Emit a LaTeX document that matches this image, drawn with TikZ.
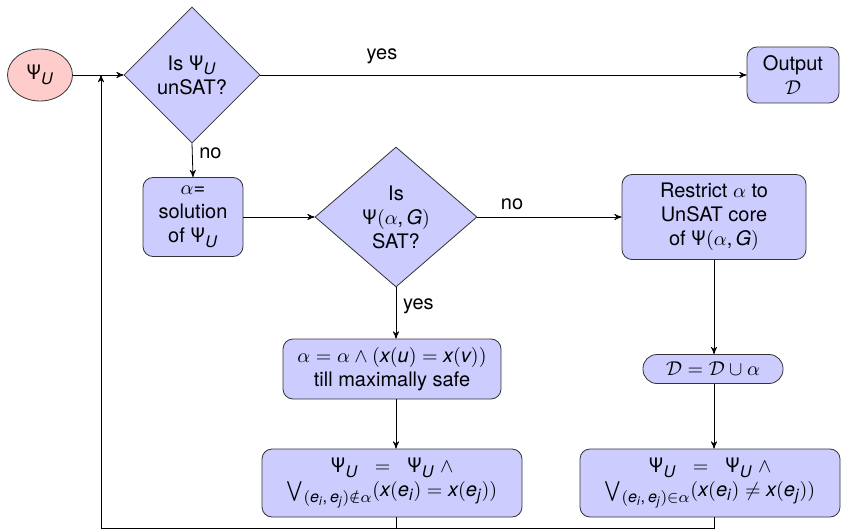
\documentclass[tikz,border=0pt]{standalone}
\usepackage{amssymb}
\usepackage{fontspec}
\setmainfont{TeX Gyre Heros}
\usepackage[italic]{mathastext}
\usetikzlibrary{arrows,shapes.geometric,positioning}

\newcommand{\PsiU}{\mbox{Ψ}_{U}}
\newcommand{\PsiG}{\mbox{Ψ}(\alpha, G)}

\begin{document}
\begin{tikzpicture}[x=0.5pt,y=-0.5pt,>=stealth']
        \tikzstyle{stepbox}=[draw=black!80, fill=blue!20, rounded corners=5pt, align=center, inner sep=2pt]
        \tikzstyle{decision}=[diamond, draw=black!80, fill=blue!20, align=center, inner sep=0pt]
        \tikzstyle{startnode}=[ellipse, draw=black!80, fill=red!20]
        \useasboundingbox (0,0) rectangle (844,529);
        % first row
        \node [startnode, minimum width=32.5pt, minimum height=26pt] (start) at (40,75) {$\PsiU$};
        \node [decision, minimum width=68pt, minimum height=68pt] (unsat) at (192,75) {Is $\PsiU$\\unSAT?};
        \node [stepbox, minimum width=46pt, minimum height=28pt] (out) at (793,75) {Output\\$\mathcal{D}$};
        \coordinate (join) at (101,75);
        % second row
        \node [stepbox, minimum width=50pt, minimum height=39.5pt] (sol) at (193,217) {$\alpha$=\\solution\\of $\PsiU$};
        \node [decision, minimum width=81pt, minimum height=70pt] (sat) at (396,217) {Is\\$\PsiG$\\SAT?};
        \node [stepbox, minimum width=92pt, minimum height=42.5pt] (core) at (714,217) {Restrict $\alpha$ to\\UnSAT core\\of $\PsiG$};
        % third row
        \node [stepbox, minimum width=109pt, minimum height=30pt] (grow) at (392,369) {$\alpha = \alpha \wedge (x(u) = x(v))$\\till maximally safe};
        \node [stepbox, rounded corners=7pt, minimum width=70pt, minimum height=14.5pt] (union) at (713,369) {$\mathcal{D} = \mathcal{D} \cup \alpha$};
        % fourth row
        \node [stepbox, minimum width=130pt, minimum height=34pt] (excl) at (392,483) {$\PsiU \;\;=\;\; \PsiU \;\wedge$\\$\bigvee_{(e_i,\,e_j)\notin\alpha}(x(e_i) = x(e_j))$};
        \node [stepbox, minimum width=130pt, minimum height=34pt] (incl) at (710,483) {$\PsiU \;\;=\;\; \PsiU \;\wedge$\\$\bigvee_{(e_i,\,e_j)\in\alpha}(x(e_i) \neq x(e_j))$};
        \coordinate (corner) at (101,528);
        % connectors
        \draw [->] (start.east) -- (unsat.west);
        \draw [->] (unsat.east) -- node [above, pos=0.25, yshift=2pt] {yes} (out.west);
        \draw [->] (unsat.south) -- node [right, pos=0.3] {no} (sol.north);
        \draw [->] (sol.east) -- (sat.west);
        \draw [->] (sat.east) -- node [above, pos=0.24] {no} (core.west);
        \draw [->] (sat.south) -- node [right, pos=0.36] {yes} (sat.south |- grow.north);
        \draw [->] (sat.south |- grow.south) -- (sat.south |- excl.north);
        \draw [->] (core.south) -- (core.south |- union.north);
        \draw [->] (core.south |- union.south) -- (core.south |- incl.north);
        \draw (excl.south -| sat.south) |- (corner);
        \draw (incl.south -| core.south) |- (corner);
        \draw [->] (corner) -- (join);
\end{tikzpicture}
\end{document}
